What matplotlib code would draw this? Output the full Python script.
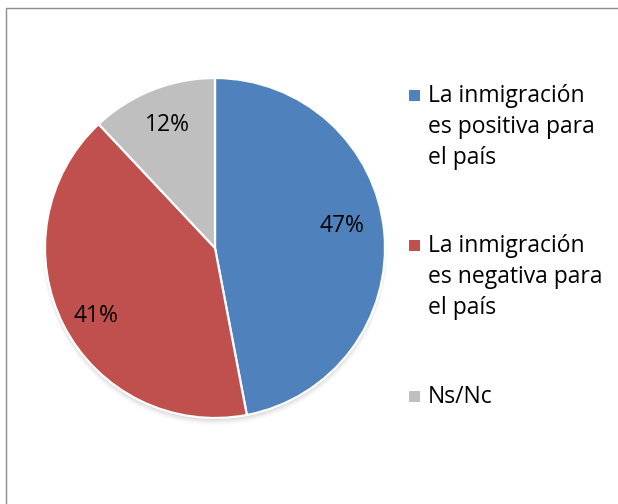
import matplotlib
matplotlib.use("Agg")
import numpy as np
import matplotlib.pyplot as plt
from matplotlib.patches import Rectangle, Circle

categories = ["La inmigración\nes positiva para\nel país",
              "La inmigración\nes negativa para\nel país",
              "Ns/Nc"]
values = [47, 41, 12]
colors = ["#4F81BD", "#C0504D", "#BFBFBF"]

W, H = 618, 504
FONT = "Open Sans"
FS = 16.5

fig = plt.figure(figsize=(W / 100, H / 100), dpi=100)
fig.patch.set_facecolor("white")

# outer border (right/bottom edges run off the image)
fig.add_artist(Rectangle((5.5 / W, -0.1), 1.2, 1.1 - 8.5 / H,
                         transform=fig.transFigure, fill=False,
                         edgecolor="#8C8C8C", linewidth=1.0))

cx, cy, r = 215, 248, 170
ax = fig.add_axes([(cx - r) / W, (H - cy - r) / H, 2 * r / W, 2 * r / H])

# soft shadow
for i, a in enumerate([0.05, 0.04, 0.03, 0.02]):
    ax.add_patch(Circle((0, -0.012 - i * 0.006), 1.0 + 0.004 * i,
                        color="black", alpha=a, lw=0, zorder=0))

wedges, texts, autotexts = ax.pie(
    values, colors=colors, startangle=90, counterclock=False,
    autopct=lambda p: f"{p:.0f}%", pctdistance=0.77,
    wedgeprops=dict(edgecolor="white", linewidth=1.6),
    textprops=dict(fontfamily=FONT, fontsize=FS, color="black"))
for w in wedges:
    w.set_zorder(2)

# label placement (Excel "best fit" style): angle shift (deg) and radius per label
label_shift = [(5.5, 0.76), (2.0, 0.80), (-1.0, 0.79)]
for w, t, (dang, rad) in zip(wedges, autotexts, label_shift):
    ang = np.deg2rad((w.theta1 + w.theta2) / 2 + dang)
    t.set_position((rad * np.cos(ang), rad * np.sin(ang) - 0.015))
    t.set_zorder(3)

ax.set_xlim(-1, 1)
ax.set_ylim(-1, 1)
ax.set_aspect("equal")
ax.axis("off")
for a in ax.get_children():
    try:
        a.set_clip_on(False)
    except Exception:
        pass

# legend drawn manually
baselines = [102, 252, 403]
sq_x, sq_size, txt_x, line_gap = 409, 11, 428, 31
for lab, col, base in zip(categories, colors, baselines):
    fig.add_artist(Rectangle((sq_x / W, (H - base + 1) / H), sq_size / W, sq_size / H,
                             transform=fig.transFigure, facecolor=col, edgecolor="none"))
    for j, line in enumerate(lab.split("\n")):
        fig.text(txt_x / W, (H - base - j * line_gap) / H, line,
                 fontfamily=FONT, fontsize=FS, color="black",
                 ha="left", va="baseline")

fig.savefig("out.png", dpi=100, facecolor="white")
